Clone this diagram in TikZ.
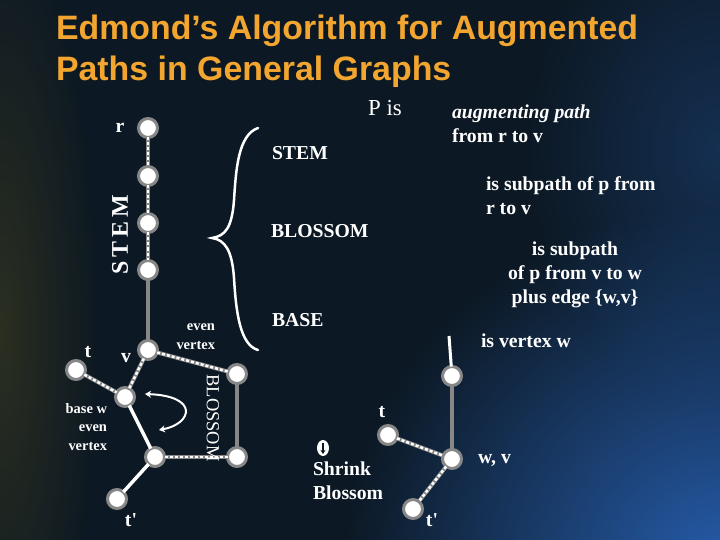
\documentclass[tikz,border=0pt]{standalone}
\usepackage{fontspec}
\setmainfont{Liberation Serif}
\setsansfont{Liberation Sans}
\usetikzlibrary{arrows.meta, shapes.geometric, fadings}

\definecolor{bgdark}{RGB}{12,24,35}
\definecolor{glowblue}{RGB}{38,92,170}
\definecolor{glowolive}{RGB}{90,82,30}
\definecolor{titleorange}{RGB}{242,166,48}
\definecolor{ringgray}{RGB}{135,135,135}

\tikzfading[name=glowfade, inner color=transparent!0, outer color=transparent!100]

\newcommand{\lbl}{\fontsize{19.8}{24}\selectfont\bfseries}
\newcommand{\smalllbl}{\fontsize{14.5}{19}\selectfont\bfseries}

\begin{document}
\begin{tikzpicture}[x=1bp, y=-1bp,
    every node/.style={text=white, inner sep=0pt, outer sep=0pt},
    vtx/.style={circle, fill=white, draw=ringgray, line width=3bp, minimum size=19bp},
    grayedge/.style={draw=ringgray, line width=4bp},
    whiteedge/.style={draw=white, line width=3.5bp},
    dashedge/.style={draw=ringgray, line width=4bp,
        postaction={draw=white, line width=2.5bp, dash pattern=on 3bp off 2bp}},
    body/.style={font=\lbl, align=left}]

	% Hintergrund
	\useasboundingbox (0,0) rectangle (720,540);
	\fill[bgdark] (0,0) rectangle (720,540);
	\begin{scope}
		\clip (0,0) rectangle (720,540);
		\fill[glowolive, opacity=0.4, path fading=glowfade] (0,330) ellipse [x radius=100, y radius=420];
		\fill[glowblue, opacity=0.35, path fading=glowfade] (720,150) ellipse [x radius=200, y radius=260];
		\fill[glowblue, path fading=glowfade] (720,565) ellipse [x radius=380, y radius=360];
	\end{scope}

	% Titel
	\node[anchor=base west, text=titleorange, font=\fontsize{34}{40}\sffamily\bfseries\selectfont] (title1) at (56,40) {Edmond’s Algorithm for Augmented};
	\node[anchor=base west, text=titleorange, font=\fontsize{34}{40}\sffamily\bfseries\selectfont] (title2) at (56,81) {Paths in General Graphs};

	% Linker Graph: Stiel
	\node[vtx] (r) at (148,128) {};
	\node[vtx] (s1) at (148,176) {};
	\node[vtx] (s2) at (148,223) {};
	\node[vtx] (s3) at (148,270) {};
	\node[vtx] (v) at (148,350) {};
	% Linker Graph: Blüte
	\node[vtx] (t) at (76,370) {};
	\node[vtx] (w) at (125,397) {};
	\node[vtx] (bm) at (155,457) {};
	\node[vtx] (tp) at (117,499) {};
	\node[vtx] (bl1) at (237,374) {};
	\node[vtx] (bl2) at (237,457) {};

	\draw[dashedge] (r) -- (s1);
	\draw[dashedge] (s1) -- (s2);
	\draw[dashedge] (s2) -- (s3);
	\draw[grayedge] (s3) -- (v);
	\draw[dashedge] (v) -- (w);
	\draw[dashedge] (v) -- (bl1);
	\draw[dashedge] (t) -- (w);
	\draw[whiteedge] (w) -- (bm);
	\draw[dashedge] (bm) -- (bl2);
	\draw[grayedge] (bl1) -- (bl2);
	\draw[whiteedge] (bm) -- (tp);

	% Pfeil in der Blüte
	\coordinate (arrA) at (145,394);
	\coordinate (arrB) at (159,430);
	\draw[white, line width=2bp, {Stealth[length=6bp,width=7bp]}-{Stealth[length=6bp,width=7bp]}]
		(arrA) .. controls (200,396) and (192,424) .. (arrB);

	% Beschriftungen links
	\node[font=\lbl] (lr) at (120,128) {r};
	\node[font=\fontsize{24}{24}\selectfont\bfseries, rotate=90] (lstem) at (120,235) {S\,T\,E\,M};
	\node[font=\lbl] (lt) at (88,352) {t};
	\node[font=\lbl] (lv) at (126,358) {v};
	\node[font=\smalllbl, align=right, anchor=east] (leven) at (215,337) {even\\vertex};
	\node[font=\smalllbl, align=right, anchor=east] (lbase) at (107,427) {base w\\even\\vertex};
	\node[font=\fontsize{18.5}{18}\selectfont, rotate=-90] (lbloss) at (213,418) {BLOSSOM};
	\node[font=\lbl] (ltp) at (131,520) {t\textquotesingle};

	% Klammer
	\draw[white, line width=2.5bp, line cap=round]
		(258,128) .. controls (238,135) and (236,170) .. (234,200)
		.. controls (232,228) and (225,236) .. (212,238)
		.. controls (225,240) and (232,250) .. (234,278)
		.. controls (236,312) and (240,345) .. (258,350);

	% Texte
	\node[font=\fontsize{23}{23}\selectfont] (pis) at (385,108) {P is};
	\node[body, anchor=west] (aug) at (452,124) {\textit{augmenting path}\\from r to v};
	\node[body, anchor=west] (tstem) at (272,153) {STEM};
	\node[body, anchor=west] (sub1) at (486,196) {is subpath of p from\\r to v};
	\node[body, anchor=west] (tbloss) at (271,231) {BLOSSOM};
	\node[body, align=center] (sub2) at (575,275) {is subpath\\of p from v to w\\plus edge \{w,v\}};
	\node[body, anchor=west] (tbase) at (272,320) {BASE};
	\node[body, anchor=west] (isw) at (481,341) {is vertex w};

	% Rechter Graph: geschrumpfte Blüte
	\coordinate (stub) at (449,336);
	\node[vtx] (top2) at (452,376) {};
	\node[vtx] (wv) at (452,459) {};
	\node[vtx] (t2) at (388,435) {};
	\node[vtx] (tp2) at (413,509) {};

	\draw[white, line width=3bp] (top2) -- (stub);
	\draw[grayedge] (top2) -- (wv);
	\draw[dashedge] (t2) -- (wv);
	\draw[dashedge] (wv) -- (tp2);

	\node[font=\lbl] (lt2) at (382,412) {t};
	\node[font=\lbl, anchor=west] (lwv) at (478,460) {w, v};
	\node[font=\lbl] (ltp2) at (432,520) {t\textquotesingle};

	% Schrumpf-Symbol
	\node[ellipse, fill=white, minimum width=12bp, minimum height=16bp] (shrinkicon) at (323,448) {};
	\draw[bgdark, line width=2bp, -{Stealth[length=4bp,width=5bp]}] ([yshift=5bp]shrinkicon.center) -- ([yshift=-6bp]shrinkicon.center);
	\node[body, anchor=west] (shrink) at (313,481) {Shrink\\Blossom};

\end{tikzpicture}
\end{document}
